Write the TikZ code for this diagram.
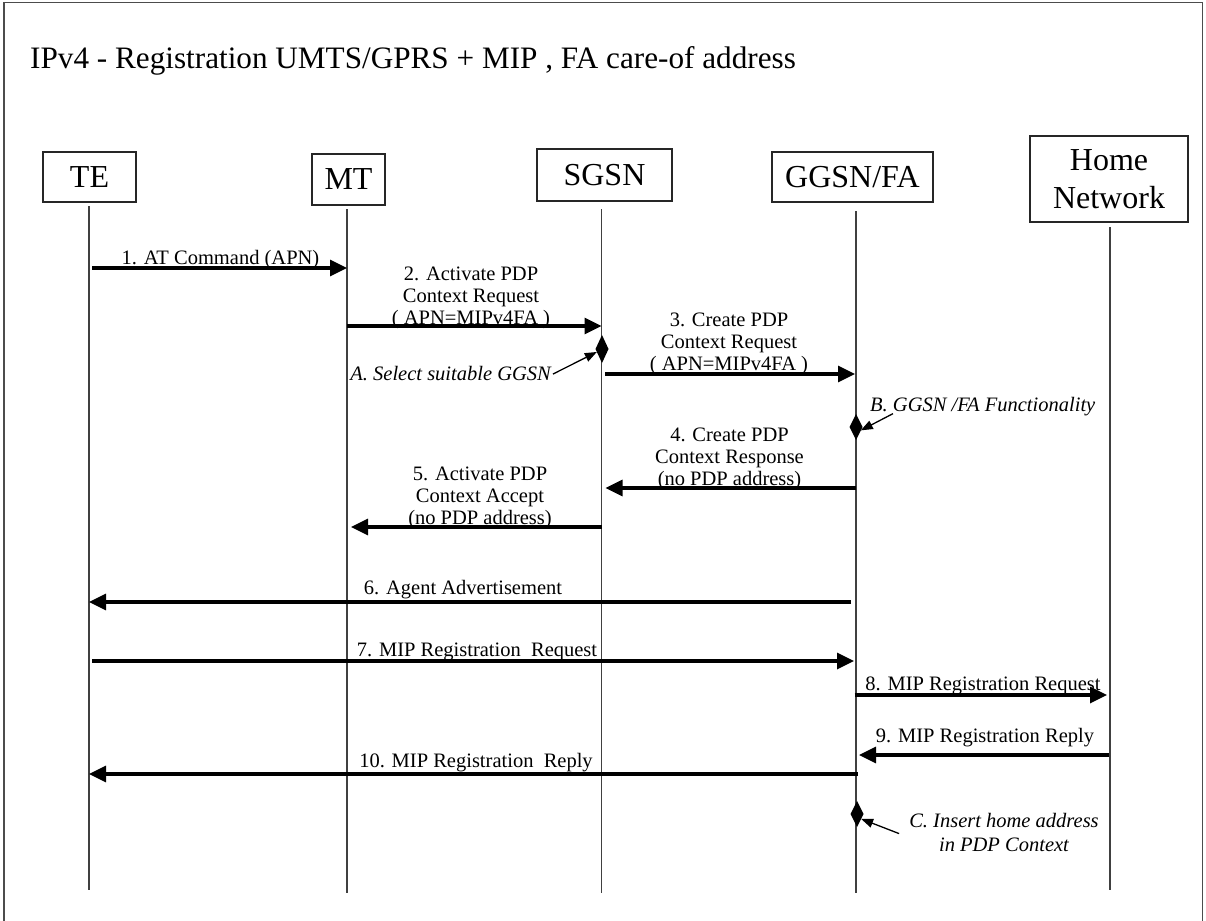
\documentclass[tikz,border=0pt]{standalone}
\usepackage{fontspec}
\setmainfont{Liberation Serif}
\usetikzlibrary{arrows.meta,shapes.geometric,calc}
\begin{document}
\begin{tikzpicture}[x=1pt,y=-1pt,
  box/.style={draw=black!85,line width=1.3pt,inner sep=0pt,outer sep=0pt,font=\fontsize{32}{38.4}\selectfont,align=center},
  life/.style={draw=black!75,line width=1.2pt},
  msg/.style={line width=3.3pt,-{Triangle[length=17pt,width=16pt]}},
  lbl/.style={font=\fontsize{20.5}{22}\selectfont,align=center,inner sep=0pt},
  note/.style={font=\fontsize{20.5}{24}\selectfont\itshape,align=center,inner sep=0pt},
  dmark/.style={diamond,fill=black,inner sep=0pt,outer sep=0pt,minimum width=13pt},
  notearrow/.style={line width=1.3pt,-{Triangle[length=12pt,width=9pt]}},
  frame/.style={draw=black!70,line width=1.6pt}
]
\useasboundingbox (0,0) rectangle (1206,920);
% frame
\draw[frame] (4,921) -- (4,2.5) -- (1202.5,2.5) -- (1202.5,921);
% title
\node[anchor=base west,inner sep=0pt,font=\fontsize{31.2}{36}\selectfont] (title) at (30,69)
  {IPv4 - Registration UMTS/GPRS + MIP , FA care-of address};
% entity boxes
\node[box,minimum width=93pt,minimum height=50pt] (te) at (89.5,177) {TE};
\node[box,minimum width=73pt,minimum height=51pt] (mt) at (348.5,179.5) {MT};
\node[box,minimum width=135pt,minimum height=52pt] (sg) at (604.5,175) {SGSN};
\node[box,minimum width=161pt,minimum height=50pt] (gg) at (852.5,177) {GGSN/FA};
\node[box,minimum width=158pt,minimum height=86pt] (hn) at (1109,179) {Home\\Network};
% lifelines
\coordinate (teT) at (89,206);    \coordinate (teB) at (89,890);
\coordinate (mtT) at (347,209);   \coordinate (mtB) at (347,893);
\coordinate (sgT) at (601.5,209); \coordinate (sgB) at (601.5,893);
\coordinate (ggT) at (856,211);   \coordinate (ggB) at (856,893);
\coordinate (hnT) at (1110,227);  \coordinate (hnB) at (1110,890);
\foreach \l in {te,mt,sg,gg,hn} \draw[life] (\l T) -- (\l B);
% messages
\draw[msg] ($(teT|-0,268)+(3,0)$) -- (mtT|-0,268);
\node[lbl,anchor=south] (l1) at (220.5,269.5) {1. AT Command (APN)};

\draw[msg] (mtT|-0,326) -- (sgT|-0,326);
\node[lbl,anchor=south] (l2) at (471,329) {2. Activate PDP\\Context Request\\( APN=MIPv4FA )};

\draw[msg] ($(sgT|-0,374)+(3.5,0)$) -- ($(ggT|-0,374)+(-1,0)$);
\node[lbl,anchor=south] (l3) at (729,375) {3. Create PDP\\Context Request\\( APN=MIPv4FA )};

\draw[msg] (ggT|-0,488) -- ($(sgT|-0,488)+(4,0)$);
\node[lbl,anchor=south] (l4) at (729.5,490) {4. Create PDP\\Context Response\\(no PDP address)};

\draw[msg] (sgT|-0,527) -- ($(mtT|-0,527)+(4,0)$);
\node[lbl,anchor=south] (l5) at (480,529) {5. Activate PDP\\Context Accept\\(no PDP address)};

\draw[msg] ($(ggT|-0,602)+(-5,0)$) -- (teT|-0,602);
\node[lbl,anchor=south] (l6) at (463,599.5) {6. Agent Advertisement};

\draw[msg] ($(teT|-0,661)+(3,0)$) -- ($(ggT|-0,661)+(-2,0)$);
\node[lbl,anchor=south] (l7) at (477,661.5) {7. MIP Registration~~Request};

\draw[msg] ($(ggT|-0,695)+(-1.5,0)$) -- ($(hnT|-0,695)+(-3,0)$);
\node[lbl,anchor=south] (l8) at (983,695) {8. MIP Registration Request};

\draw[msg] ($(hnT|-0,755)+(-1,0)$) -- ($(ggT|-0,755)+(3,0)$);
\node[lbl,anchor=south] (l9) at (985,747) {9. MIP Registration Reply};

\draw[msg] ($(ggT|-0,774)+(2,0)$) -- (teT|-0,774);
\node[lbl,anchor=south] (l10) at (476,772.5) {10. MIP Registration~~Reply};

% actions
\node[dmark,minimum height=28pt] (dA) at (602,349) {};
\node[note,anchor=base east] (nA) at (551,380) {A. Select suitable GGSN};
\draw[notearrow] ($(nA.east)+(2,1)$) -- (dA.210);

\node[dmark,minimum height=26pt] (dB) at (856,427) {};
\node[note,anchor=base west] (nB) at (870,411) {B. GGSN /FA Functionality};
\draw[notearrow] ($(nB.south west)+(23,-2)$) -- (dB.-35);

\node[dmark,minimum height=26pt] (dC) at (857,814) {};
\node[note,anchor=south] (nC) at (1004,852) {C. Insert home address\\in PDP Context};
\draw[notearrow] ($(nC.west)+(-10,1)$) -- (dC.-50);
\end{tikzpicture}
\end{document}
